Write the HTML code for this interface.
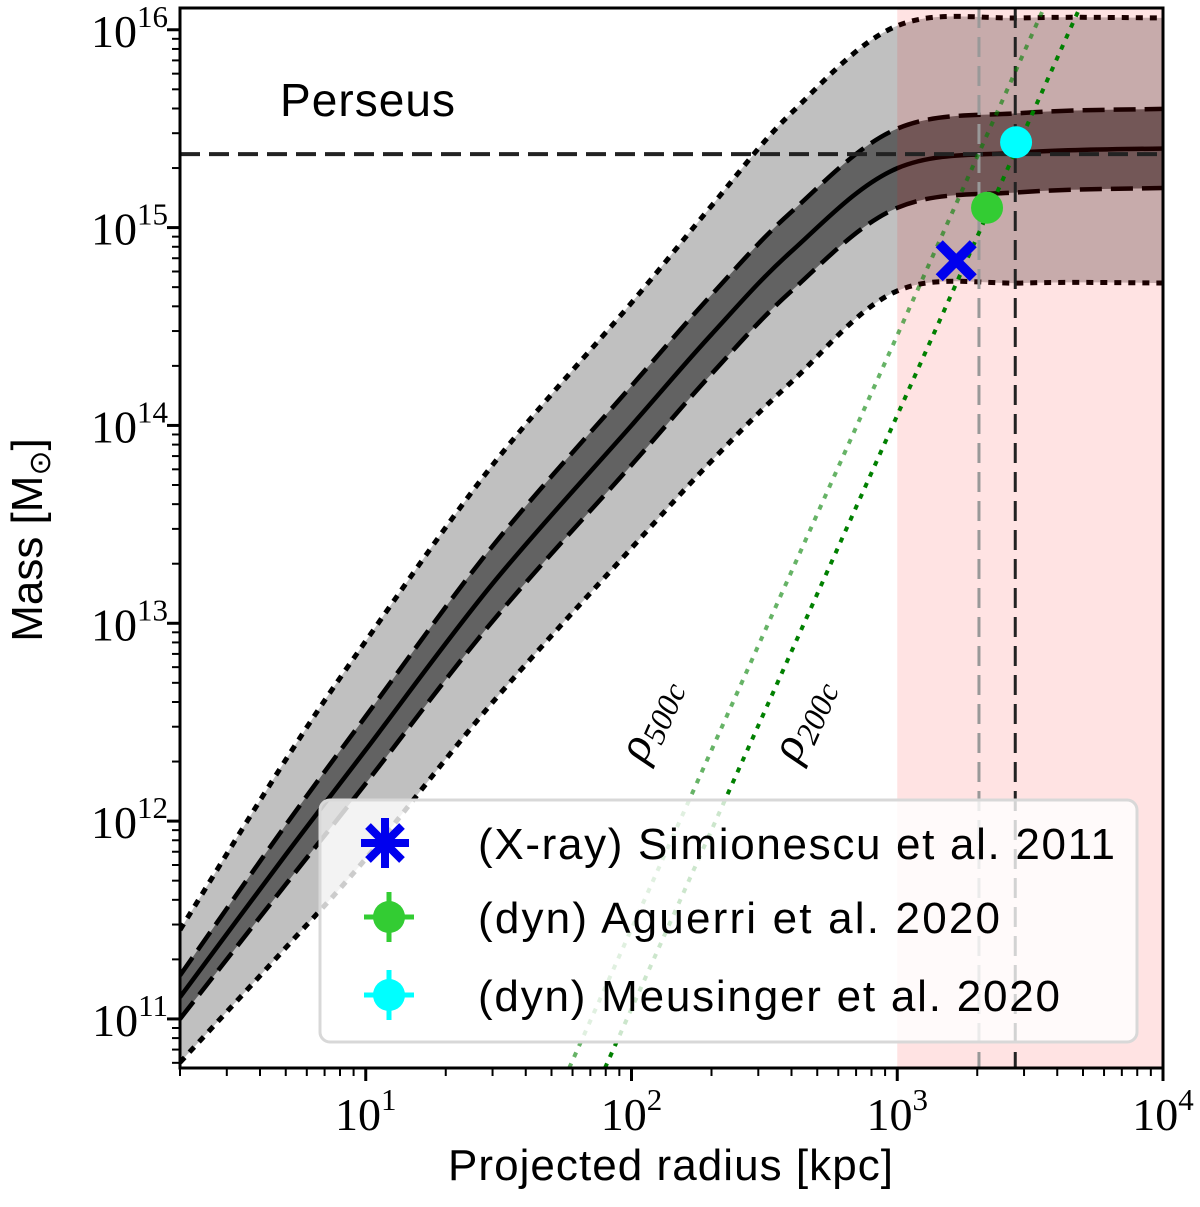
<!DOCTYPE html>
<html><head><meta charset="utf-8"><style>
body{margin:0;background:#fff}
svg{display:block}
text{font-family:"Liberation Sans",sans-serif}
.serif{font-family:"Liberation Serif",serif}
</style></head><body>
<svg id="chart" width="1200" height="1207" viewBox="0 0 1200 1207" xmlns="http://www.w3.org/2000/svg">
<defs><clipPath id="clip"><rect x="180" y="8" width="983" height="1060"/></clipPath></defs>
<g id="plot" clip-path="url(#clip)"></g>
<g id="axes"></g>
</svg>
<script>
const radii=[2,5,10,30,100,200,400,1000,3000,10000];
const centerM=[11.11,11.83,12.36,13.2,14.0,14.46,14.88,15.30,15.38,15.40];
const upperDash=[11.22,11.98,12.53,13.39,14.2,14.66,15.08,15.50,15.58,15.60];
const lowerDash=[11.0,11.68,12.19,13.01,13.8,14.26,14.68,15.10,15.18,15.20];
const upperDot=[11.45,12.31,12.91,13.8,14.62,15.11,15.58,16.02,16.06,16.06];
const lowerDot=[10.78,11.36,11.81,12.6,13.38,13.82,14.22,14.68,14.72,14.72];
const refMass=2.35e15;
const r500=2030, r200=2780;
const rho500Anchor=[1092,14.57];
const rho200Anchor=[1489,14.57];
const pointNames=["(X-ray) Simionescu et al. 2011","(dyn) Aguerri et al. 2020","(dyn) Meusinger et al. 2020"];
const pointR=[1667,2177,2800];
const pointM=[6.8e14,1.26e15,2.7e15];
const xTicks=[1,2,3,4];
const yTicks=[11,12,13,14,15,16];

const X0=180,X1=1163,Y0=1068,Y1=8;
const lxmin=Math.log10(2),lxmax=4,lymin=10.752,lymax=16.11;
const xs=lr=>X0+(lr-lxmin)/(lxmax-lxmin)*(X1-X0);
const ys=lm=>Y0-(lm-lymin)/(lymax-lymin)*(Y0-Y1);
const NS="http://www.w3.org/2000/svg";
const plot=document.getElementById('plot'),axes=document.getElementById('axes');
function mk(tag,attrs,parent){const e=document.createElementNS(NS,tag);for(const k in attrs)e.setAttribute(k,attrs[k]);parent.appendChild(e);return e;}
function pts(arr){return radii.map((r,i)=>[xs(Math.log10(r)),ys(arr[i])]);}
function smooth(p){let d=`M${p[0][0]},${p[0][1]}`;for(let i=0;i<p.length-1;i++){const p0=p[i-1]||p[i],p1=p[i],p2=p[i+1],p3=p[i+2]||p2;
const c1=[p1[0]+(p2[0]-p0[0])/6,p1[1]+(p2[1]-p0[1])/6],c2=[p2[0]-(p3[0]-p1[0])/6,p2[1]-(p3[1]-p1[1])/6];d+=` C${c1} ${c2} ${p2}`;}return d;}
function band(a,b){const pa=smooth(pts(a));const pb=pts(b).reverse();return pa+' L'+smooth(pb).slice(1)+' Z';}
let e;
e=mk('path',{d:band(upperDot,lowerDot),fill:'#c0c0c0'},plot);


e=mk('path',{d:band(upperDash,lowerDash),fill:'#626262'},plot);


const lines=[[upperDot,'7 7',5,'upper-dotted-line'],[lowerDot,'7 7',5,'lower-dotted-line'],[upperDash,'22 9',4.5,'upper-dashed-line'],[lowerDash,'22 9',4.5,'lower-dashed-line'],[centerM,'',4.5,'median-line']];
lines.forEach(l=>{e=mk('path',{d:smooth(pts(l[0])),fill:'none',stroke:'#000','stroke-width':l[2],'stroke-dasharray':l[1]},plot);

});
e=mk('rect',{x:xs(3),y:Y1,width:xs(4)-xs(3),height:Y0-Y1,fill:'rgba(255,0,0,0.11)'},plot);


e=mk('line',{x1:X0,x2:X1,y1:ys(Math.log10(refMass)),y2:ys(Math.log10(refMass)),stroke:'#222','stroke-width':4,'stroke-dasharray':'20 9'},plot);


e=mk('line',{x1:xs(Math.log10(r500)),x2:xs(Math.log10(r500)),y1:Y1,y2:Y0,stroke:'#999','stroke-width':3,'stroke-dasharray':'20 9'},plot);


e=mk('line',{x1:xs(Math.log10(r200)),x2:xs(Math.log10(r200)),y1:Y1,y2:Y0,stroke:'#222','stroke-width':3,'stroke-dasharray':'20 9'},plot);


[[rho500Anchor,'rgba(0,128,0,0.6)','rho500-line'],[rho200Anchor,'#008000','rho200-line']].forEach(a=>{
const lr0=Math.log10(a[0][0]),lm0=a[0][1];const la=lr0+(lymin-lm0)/3,lb=lr0+(lymax-lm0)/3;
e=mk('line',{x1:xs(la),y1:ys(lymin),x2:xs(lb),y2:ys(lymax),stroke:a[1],'stroke-width':4,'stroke-dasharray':'5 7'},plot);

});
function xmark(g,cx,cy,s,w){mk('line',{x1:cx-s,y1:cy-s,x2:cx+s,y2:cy+s,stroke:'#0000ee','stroke-width':w},g);mk('line',{x1:cx-s,y1:cy+s,x2:cx+s,y2:cy-s,stroke:'#0000ee','stroke-width':w},g);}
let g=mk('g',{},plot);


xmark(g,xs(Math.log10(pointR[0])),ys(Math.log10(pointM[0])),17,10);
e=mk('circle',{cx:xs(Math.log10(pointR[1])),cy:ys(Math.log10(pointM[1])),r:16,fill:'#33cc33'},plot);


e=mk('circle',{cx:xs(Math.log10(pointR[2])),cy:ys(Math.log10(pointM[2])),r:16,fill:'#00ffff'},plot);


e=mk('rect',{x:X0,y:Y1,width:X1-X0,height:Y0-Y1,fill:'none',stroke:'#000','stroke-width':3},axes);


for(let d=0;d<4;d++)for(let m=1;m<10;m++){const lr=d+Math.log10(m);if(lr<lxmin-1e-9||lr>lxmax+1e-9)continue;const maj=m==1;
mk('line',{x1:xs(lr),x2:xs(lr),y1:Y0,y2:Y0+(maj?13:8),stroke:'#000','stroke-width':maj?3:2},axes);}
mk('line',{x1:xs(4),x2:xs(4),y1:Y0,y2:Y0+13,stroke:'#000','stroke-width':3},axes);
xTicks.forEach(t=>{e=mk('text',{x:xs(t),y:1130,'text-anchor':'middle','font-size':46,class:'serif'},axes);
e.innerHTML=`10<tspan dy="-20" font-size="31">${t}</tspan>`;

});
for(let d=10;d<17;d++)for(let m=1;m<10;m++){const lm=d+Math.log10(m);if(lm<lymin||lm>lymax)continue;const maj=m==1;
mk('line',{x1:X0,x2:X0-(maj?13:8),y1:ys(lm),y2:ys(lm),stroke:'#000','stroke-width':maj?3:2},axes);}
yTicks.forEach(t=>{e=mk('text',{x:168,y:ys(t)+17,'text-anchor':'end','font-size':46,class:'serif'},axes);
e.innerHTML=`10<tspan dy="-20" font-size="31">${t}</tspan>`;

});
</script>
<svg width="1200" height="1207" style="position:absolute;left:0;top:0" xmlns="http://www.w3.org/2000/svg">
<text x="280" y="116" font-size="46" textLength="175">Perseus</text>
<text x="448" y="1180" font-size="44" textLength="445">Projected radius [kpc]</text>
<text transform="translate(42,540) rotate(-90)" font-size="44" text-anchor="middle">Mass [M<tspan font-size="30" dy="8">⊙</tspan><tspan dy="-8">]</tspan></text>
<text class="serif" transform="translate(662,725) rotate(-66)" font-size="48" font-style="italic" text-anchor="middle">ρ<tspan font-size="32" dy="8">500c</tspan></text>
<text class="serif" transform="translate(815,725) rotate(-66)" font-size="48" font-style="italic" text-anchor="middle">ρ<tspan font-size="32" dy="8">200c</tspan></text>
<g>
<rect x="320" y="800" width="817" height="242" rx="10" fill="rgba(255,255,255,0.8)" stroke="#d8d8d8" stroke-width="3"/>
<g stroke="#0000ee" stroke-width="8">
<line x1="385" y1="818" x2="385" y2="868"/><line x1="361" y1="843" x2="409" y2="843"/>
<line x1="368" y1="826" x2="402" y2="860"/><line x1="368" y1="860" x2="402" y2="826"/></g>
<text x="478" y="859" font-size="44" textLength="637">(X-ray) Simionescu et al. 2011</text>
<g><line x1="364" y1="917" x2="414" y2="917" stroke="#33cc33" stroke-width="5"/><line x1="389" y1="892" x2="389" y2="942" stroke="#33cc33" stroke-width="5"/><circle cx="389" cy="917" r="16" fill="#33cc33"/></g>
<text x="478" y="933" font-size="44" textLength="522">(dyn) Aguerri et al. 2020</text>
<g><line x1="364" y1="995" x2="414" y2="995" stroke="#00ffff" stroke-width="5"/><line x1="389" y1="970" x2="389" y2="1020" stroke="#00ffff" stroke-width="5"/><circle cx="389" cy="995" r="16" fill="#00ffff"/></g>
<text x="478" y="1011" font-size="44" textLength="582">(dyn) Meusinger et al. 2020</text>
</g>
</svg>
</body></html>
